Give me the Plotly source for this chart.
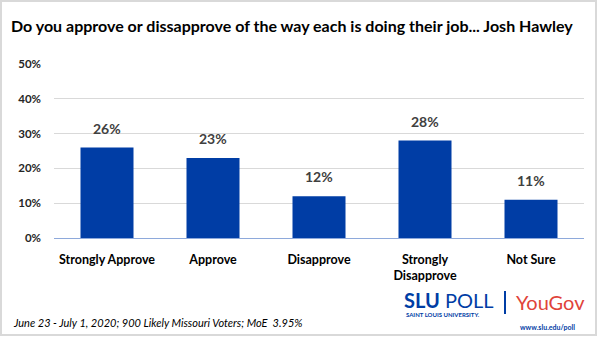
import plotly.graph_objects as go

# Survey responses
categories = ["Strongly Approve", "Approve", "Disapprove", "Strongly<br>Disapprove", "Not Sure"]
shares = [26, 23, 12, 28, 11]
tick_values = [0, 10, 20, 30, 40, 50]
tick_labels = ["0%", "10%", "20%", "30%", "40%", "50%"]

title_text = "Do you approve or dissapprove of the way each is doing their job... Josh Hawley"
footer_text = "June 23 - July 1, 2020; 900 Likely Missouri Voters; MoE  3.95%"

BAR_BLUE = "#003DA5"
FONT = "Lato"

W, H = 600, 337
ML, MR, MT, MB = 54, 16, 64, 99

fig = go.Figure(
    go.Bar(
        x=categories,
        y=shares,
        marker=dict(color=BAR_BLUE, line=dict(width=0)),
        hoverinfo="x+y",
    )
)

fig.update_layout(
    width=W,
    height=H,
    margin=dict(l=ML, r=MR, t=MT, b=MB),
    paper_bgcolor="white",
    plot_bgcolor="white",
    bargap=0.5,
    showlegend=False,
    font=dict(family=FONT),
    xaxis=dict(
        showgrid=False,
        showline=True,
        linecolor="#8EA9DB",
        linewidth=1,
        ticks="",
        ticklabelstandoff=10,
        tickfont=dict(family=FONT, size=12.5, color="#000000", weight="bold"),
    ),
    yaxis=dict(
        range=[0, 50],
        tickvals=tick_values,
        ticktext=tick_labels,
        showgrid=True,
        gridcolor="#D9D9D9",
        gridwidth=1,
        zeroline=False,
        ticks="",
        ticklabelstandoff=12,
        tickfont=dict(family=FONT, size=11.5, color="#262626", weight="bold"),
    ),
)


def to_paper(px, py):
    return (px - ML) / (W - ML - MR), 1 - (py - MT) / (H - MT - MB)


annotations = []

# value labels above each bar
for cat, v in zip(categories, shares):
    annotations.append(dict(
        x=cat, y=v, xref="x", yref="y", text=f"{v}%", showarrow=False,
        yanchor="bottom", yshift=9,
        font=dict(family=FONT, size=14, color="#404040", weight="bold"),
    ))


def text_at(text, px, py, size, color, **font_kw):
    x, y = to_paper(px, py)
    annotations.append(dict(
        text=text, x=x, y=y, xref="paper", yref="paper", showarrow=False,
        xanchor="left", yanchor="middle",
        font=dict(family=FONT, size=size, color=color, **font_kw),
    ))


text_at(title_text, 9, 25, 16, "#000000", weight="bold")
text_at(footer_text, 11, 322, 11, "#000000", style="italic")
text_at("<b>SLU</b> POLL", 402, 300, 20, "#003DA5")
text_at("<b>SAINT LOUIS UNIVERSITY.</b>", 404, 314, 6, "#003DA5")
text_at("YouGov", 514, 302, 20, "#E0433A")
text_at("<b>www.slu.edu/poll</b>", 518, 327, 7, "#003DA5")

fig.update_layout(annotations=annotations)

# divider between logos
x0, y0 = to_paper(505, 291)
x1, y1 = to_paper(505, 314)
fig.add_shape(type="line", xref="paper", yref="paper", x0=x0, y0=y0, x1=x1, y1=y1,
              line=dict(color="#003DA5", width=2))

# light frame around the chart
fx0, fy0 = to_paper(1, 1)
fx1, fy1 = to_paper(596, 335)
fig.add_shape(type="rect", xref="paper", yref="paper", x0=fx0, y0=fy0, x1=fx1, y1=fy1,
              line=dict(color="#D9D9D9", width=2), layer="below")

fig.write_html("out.html")
